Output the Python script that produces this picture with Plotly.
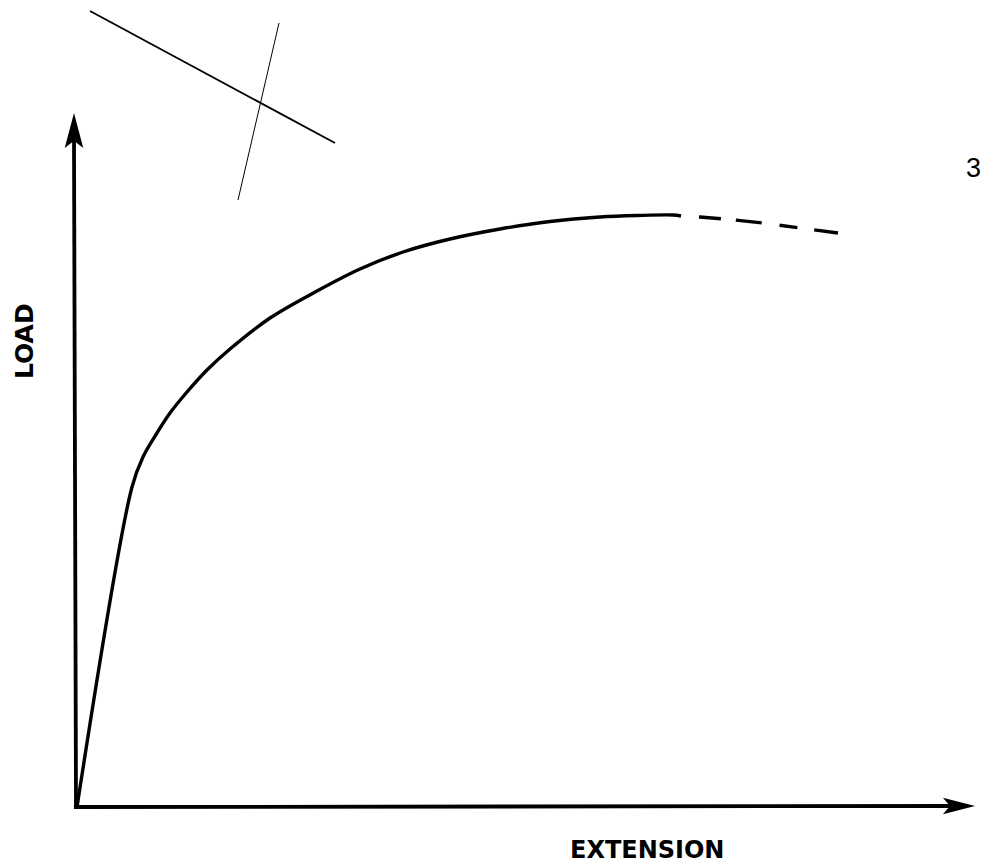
import plotly.graph_objects as go

# Load–extension curve (arbitrary units): linear elastic part, then work hardening
extension = [0.0, 5.5, 6.6, 8.0, 9.3, 11.0, 13.0, 15.3, 19.3, 24.0, 28.3,
             32.6, 37.3, 42.3, 47.3, 52.3, 56.0, 59.6, 60.4]
load = [0.0, 32.0, 35.0, 37.4, 39.4, 41.5, 43.7, 45.8, 48.9, 51.6, 53.8,
        55.5, 56.8, 57.8, 58.55, 59.0, 59.15, 59.2, 59.1]

# Uncertain part beyond the maximum load (drawn dashed)
ext_dashed = [62.3, 65.8, 68.6, 72.3, 76.1]
load_dashed = [59.0, 58.7, 58.4, 57.9, 57.4]

x_label = "EXTENSION"
y_label = "LOAD"
page_number = "3"

# the plotting area covers the whole page: 10 px per unit on both axes
X_RANGE = [-7.7, 90.4]
Y_RANGE = [-6.0, 80.7]
X_TIP, Y_TIP = 89.5, 69.1

fig = go.Figure()

fig.add_trace(go.Scatter(x=extension, y=load, mode="lines",
                         line=dict(color="black", width=3.4, shape="spline",
                                   smoothing=1.0),
                         hoverinfo="skip", showlegend=False))
fig.add_trace(go.Scatter(x=[extension[-1]] + ext_dashed,
                         y=[load[-1]] + load_dashed, mode="lines",
                         line=dict(color="black", width=3.4,
                                   dash="0px,18px,22px,15px,26px,18px,18px,17px,22px"),
                         hoverinfo="skip", showlegend=False))

shapes = []
# axes drawn as arrows from the origin
shapes.append(dict(type="line", x0=-0.1, y0=0, x1=-0.3, y1=Y_TIP - 2.5,
                   line=dict(color="black", width=3.8)))
shapes.append(dict(type="line", x0=-0.3, y0=0, x1=X_TIP - 2.2, y1=0.1,
                   line=dict(color="black", width=3.8)))
# arrowheads (notched triangles)
yt = Y_TIP
shapes.append(dict(type="path",
                   path=f"M -0.3,{yt} L 0.5,{yt-3.0} L -0.3,{yt-2.4} L -1.1,{yt-3.0} Z",
                   fillcolor="black", line=dict(color="black", width=1.5)))
xt = X_TIP
shapes.append(dict(type="path",
                   path=f"M {xt},0.1 L {xt-2.7},0.8 L {xt-2.1},0.1 L {xt-2.7},-0.6 Z",
                   fillcolor="black", line=dict(color="black", width=1.5)))
# pencil marks near the top-left corner
shapes.append(dict(type="line", x0=1.3, y0=79.6, x1=25.8, y1=66.4,
                   line=dict(color="black", width=1.8)))
shapes.append(dict(type="line", x0=20.2, y0=78.4, x1=16.1, y1=60.7,
                   line=dict(color="black", width=1)))

annotations = [
    dict(x=-5.3, y=46.6, xref="x", yref="y", text=f"<b>{y_label}</b>",
         showarrow=False, textangle=-90,
         font=dict(family="DejaVu Sans", size=25, color="black")),
    dict(x=57.0, y=-4.3, xref="x", yref="y", text=f"<b>{x_label}</b>",
         showarrow=False,
         font=dict(family="DejaVu Sans", size=24, color="black")),
    dict(x=89.6, y=63.9, xref="x", yref="y", text=page_number,
         showarrow=False,
         font=dict(family="Liberation Sans", size=27, color="black")),
]

fig.update_layout(
    width=981, height=867,
    margin=dict(l=0, r=0, t=0, b=0),
    paper_bgcolor="white", plot_bgcolor="white",
    xaxis=dict(range=X_RANGE, visible=False, fixedrange=True),
    yaxis=dict(range=Y_RANGE, visible=False, fixedrange=True),
    shapes=shapes, annotations=annotations,
    showlegend=False,
)

fig.write_html("out.html")
